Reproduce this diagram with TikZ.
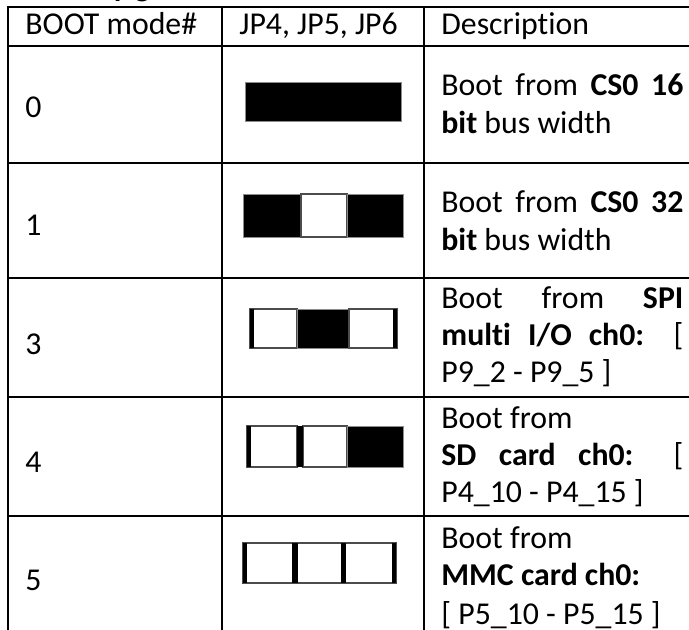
\documentclass[tikz,border=0pt]{standalone}
\usepackage{fontspec}
\setmainfont{Carlito}[Ligatures=NoCommon]
\begin{document}
\begin{tikzpicture}[x=0.5pt,y=-0.5pt,
  grid/.style={line width=1.4pt,line cap=rect},
  txt/.style={anchor=base west,inner sep=0pt,font=\fontsize{15.9}{19}\selectfont},
  jblack/.style={fill=black,draw=black!45,line width=0.5pt},
  jwhite/.style={fill=white,draw=black!70,line width=0.8pt},
  jbar/.style={fill=black}]
\clip (0,0) rectangle (689,629);
\useasboundingbox (0,0) rectangle (689,629);

% heading above the table (only its descenders fall inside the page)
\node[txt,font=\fontsize{15.9}{19}\selectfont\bfseries] (heading) at (14,-4) {Memory guide};

% table rules
\foreach \yy in {7,46,163,278,397,516}
  \draw[grid] (8,\yy) -- (700,\yy);
\foreach \xx in {8,222,424}
  \draw[grid] (\xx,7) -- (\xx,660);

% header
\node[txt] (hmode) at (25,34) {BOOT mode\#};
\node[txt] (hjp)   at (239,34) {JP4, JP5, JP6};
\node[txt] (hdesc) at (441,34) {Description};

% mode numbers
\node[txt] (m0) at (25,117) {0};
\node[txt] (m1) at (25,235) {1};
\node[txt] (m3) at (25,354) {3};
\node[txt] (m4) at (25,472) {4};
\node[txt] (m5) at (25,590) {5};

% descriptions
\node[txt] (d0a) at (441,95)  {\makebox[121pt][s]{Boot from \textbf{CS0 16}}};
\node[txt] (d0b) at (441,133) {\textbf{bit} bus width};
\node[txt] (d1a) at (441,212) {\makebox[121pt][s]{Boot from \textbf{CS0 32}}};
\node[txt] (d1b) at (441,250) {\textbf{bit} bus width};
\node[txt] (d3a) at (441,308) {\makebox[121pt][s]{Boot from \textbf{SPI}}};
\node[txt] (d3b) at (441,345) {\makebox[121pt][s]{\textbf{multi I/O ch0:} [}};
\node[txt] (d3c) at (441,382) {P9\_2 - P9\_5 ]};
\node[txt] (d4a) at (441,428) {Boot from};
\node[txt] (d4b) at (441,465) {\makebox[121pt][s]{\textbf{SD card ch0:} [}};
\node[txt] (d4c) at (441,502) {P4\_10 - P4\_15 ]};
\node[txt] (d5a) at (441,548) {Boot from};
\node[txt] (d5b) at (441,585) {\textbf{MMC card ch0:}};
\node[txt] (d5c) at (441,624) {[ P5\_10 - P5\_15 ]};

% jumper pictures
% mode 0: all fitted
\draw[jblack] (245,82) rectangle (401,121);
% mode 1
\draw[jblack] (243,194) rectangle (301,237);
\draw[jwhite] (301,194) rectangle (347,237);
\draw[jblack] (347,194) rectangle (403,237);
% mode 3
\draw[jwhite] (250,309) rectangle (297,348);
\draw[jblack] (297,309) rectangle (349,348);
\draw[jwhite] (349,309) rectangle (397,348);
\fill[jbar] (250,309) rectangle (254,348);
\fill[jbar] (393,309) rectangle (397,348);
% mode 4
\draw[jwhite] (247,426) rectangle (297,467);
\draw[jwhite] (303,426) rectangle (347,467);
\draw[jblack] (347,426) rectangle (403,467);
\fill[jbar] (247,426) rectangle (251,467);
\fill[jbar] (297,426) rectangle (303,467);
% mode 5: none fitted
\draw[jwhite] (243,543) rectangle (396,583);
\fill[jbar] (243,543) rectangle (247,583);
\fill[jbar] (292,543) rectangle (298,583);
\fill[jbar] (341,543) rectangle (346,583);
\fill[jbar] (392,543) rectangle (396,583);
\end{tikzpicture}
\end{document}
